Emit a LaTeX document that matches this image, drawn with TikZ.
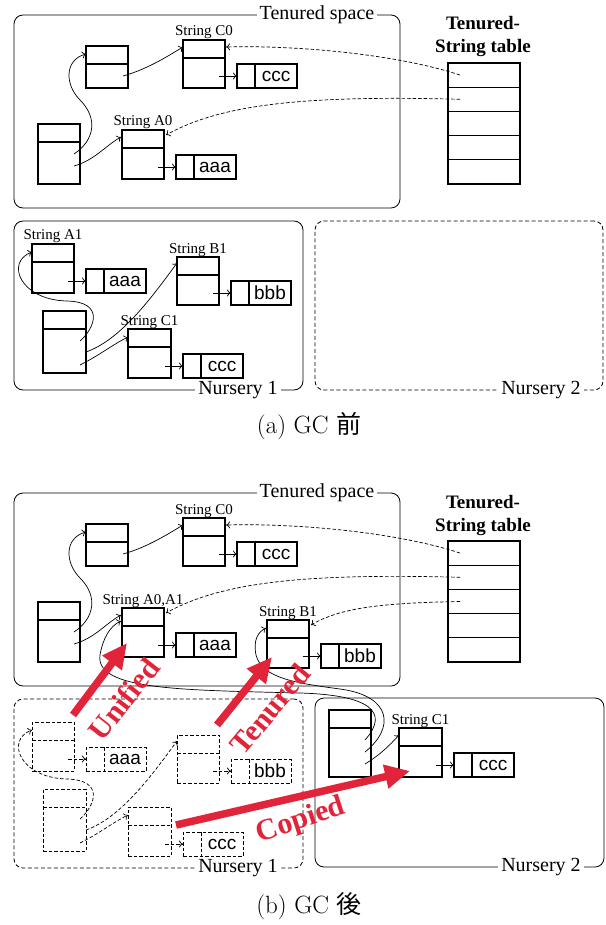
\documentclass[tikz,border=0pt]{standalone}
\usepackage{fontspec}
\newfontfamily\tms{Liberation Serif}
\newfontfamily\hlv{Liberation Sans}
\newfontfamily\cjk{Noto Sans CJK JP}
\usetikzlibrary{arrows.meta,calc}
\definecolor{gcred}{RGB}{226,36,58}
\tikzset{
  objbox/.style={draw, line width=1.2pt, inner sep=0pt, outer sep=0pt},
  payload/.style={draw, line width=1.2pt, minimum width=60pt, minimum height=24pt, inner sep=0pt, outer sep=0pt, anchor=south west},
  paytext/.style={font=\hlv\fontsize{19}{19}\selectfont, inner sep=0pt},
  ptr/.style={line width=0.7pt, -{To[length=4pt,width=7pt]}},
  ghost/.style={line width=0.75pt, dash pattern=on 3.5pt off 2pt},
  tblptr/.style={ptr, dash pattern=on 3.5pt off 2pt},
  lbl/.style={font=\tms\fontsize{15}{15}\selectfont, inner sep=0pt},
  region/.style={draw, line width=0.8pt, rounded corners=9pt, inner sep=0pt, outer sep=0pt},
  dregion/.style={region, dash pattern=on 4pt off 2.5pt},
  regionlabel/.style={font=\tms\fontsize{20}{20}\selectfont, fill=white, inner xsep=3pt, inner ysep=1pt},
  tbltitle/.style={font=\tms\bfseries\fontsize{19}{23}\selectfont, align=center, inner sep=0pt},
  gcarrow/.style={draw=gcred, line width=7.5pt, -{Triangle[length=25pt,width=23pt]}},
  gclabel/.style={text=gcred, font=\tms\bfseries\fontsize{30}{30}\selectfont, inner sep=0pt},
  caption/.style={font=\fontsize{25}{25}\selectfont, inner sep=0pt},
}
% string object: [style] name, x, y, width, height
\newcommand\sobj[6][]{%
  \node[objbox,#1,minimum width=#5,minimum height=#6,anchor=north west] (#2) at ({#3},{#4}) {};
  \draw[objbox,#1] ($(#2.north west)+(0,18)$) -- ($(#2.north east)+(0,18)$);}
% payload: [style] name, owner, text
\newcommand\pobj[4][]{%
  \node[payload,#1] (#2) at ($(#3.south east)+(12,0)$) {};
  \draw[objbox,#1] ($(#2.north west)+(18,0)$) -- ($(#2.south west)+(18,0)$);
  \node[paytext] (#2-t) at ($(#2.center)+(9,0)$) {#4};
  \draw[ptr,#1] ($(#3.east |- #2.west)+(-6,0)$) -- (#2.west);}
\newcommand\slabel[2]{\node[lbl,anchor=base] (#1-l) at ([yshift=4pt]#1.north) {#2};}
% tenured space panel
\newcommand\panelTop[2]{%
  \node[region, minimum width=386pt, minimum height=193pt, anchor=north west] (#1TS) at (14,15) {};
  \node[regionlabel] (#1TSl) at (317,15) {Tenured space};
  \sobj{#1P}{86}{46}{42pt}{42pt}
  \sobj{#1C}{183}{40}{42pt}{48pt}
  \pobj{#1Cp}{#1C}{ccc}
  \sobj{#1R}{38}{124}{42pt}{60pt}
  \sobj{#1A}{122}{130}{42pt}{49pt}
  \pobj{#1Ap}{#1A}{aaa}
  \slabel{#1C}{String C0}
  \slabel{#1A}{#2}
  \node[tbltitle] (#1TT) at (483,37) {Tenured-\\String table};
  \foreach \i in {1,...,5}
    \node[objbox,minimum width=72pt,minimum height=24.2pt,anchor=north west] (#1T\i) at (448,{63+24.2*(\i-1)}) {};
  \draw[ptr] ($(#1R.north east)+(-6,30)$) .. controls (95,140) and (98,118) .. (80,100)
             .. controls (65,85) and (64,60) .. ($(#1P.north west)+(0,8)$);
  \draw[ptr] ($(#1R.north east)+(-6,42)$) .. controls (95,160) and (105,146) .. ($(#1A.north west)+(-1,7)$);
  \draw[ptr] ($(#1P.north east)+(-5,30)$) .. controls (145,70) and (165,58) .. ($(#1C.north west)+(0,7)$);
  \draw[tblptr] ($(#1T1.west)+(12,0)$) .. controls (400,55) and (300,45) .. ($(#1C.north east)+(1,7)$);
  \draw[tblptr] ($(#1T2.west)+(12,0)$) .. controls (300,95) and (220,105) .. ($(#1A.north east)+(2,5)$);
}
% nursery 1 panel: [style] prefix region-style
\newcommand\nurseryOne[3][]{%
  \node[#3, minimum width=289pt, minimum height=169pt, anchor=north west] (#2N) at (14,221) {};
  \node[regionlabel] (#2Nl) at (238,390) {Nursery 1};
  \sobj[#1]{#2A}{32}{244}{42pt}{49pt}
  \pobj[#1]{#2Ap}{#2A}{aaa}
  \sobj[#1]{#2B}{177}{257}{42pt}{48pt}
  \pobj[#1]{#2Bp}{#2B}{bbb}
  \sobj[#1]{#2R}{43}{311}{43pt}{62pt}
  \sobj[#1]{#2C}{128}{329}{43pt}{49pt}
  \pobj[#1]{#2Cp}{#2C}{ccc}
  \draw[ptr,#1,line width=0.7pt] ($(#2R.north east)+(-6,30)$) .. controls (95,328) and (105,302) .. (67,301)
                .. controls (20,300) and (5,262) .. ($(#2A.north west)+(0,8)$);
  \draw[ptr,#1,line width=0.7pt] ($(#2R.north east)+(0,41)$) .. controls (120,340) and (150,300) .. ($(#2B.north west)+(0,6)$);
  \draw[ptr,#1,line width=0.7pt] ($(#2R.north east)+(-6,54)$) .. controls (100,355) and (112,345) .. ($(#2C.north west)+(0,8)$);
}
\begin{document}
\begin{tikzpicture}[x=1pt,y=-1pt]
\useasboundingbox (0,0) rectangle (605,925);
% ---------------- (a) ----------------
\panelTop{a}{String A0}
\nurseryOne{an}{region}
\slabel{anA}{String A1}
\slabel{anB}{String B1}
\slabel{anC}{String C1}
\node[dregion, minimum width=288pt, minimum height=169pt, anchor=north west] (aN2) at (315,221) {};
\node[regionlabel] (aN2l) at (541,390) {Nursery 2};
\node[caption] (capa) at (309,426) {(a) GC {\cjk 前}};
% ---------------- (b) ----------------
\begin{scope}[yshift=-478pt]
\panelTop{b}{String A0,A1}
\sobj{bB}{267}{142}{42pt}{48pt}
\pobj{bBp}{bB}{bbb}
\slabel{bB}{String B1}
\draw[tblptr] ($(bT3.west)+(12,0)$) .. controls (380,125) and (340,130) .. ($(bB.north east)+(2,5)$);
\nurseryOne[ghost]{bn}{dregion}
\node[region, minimum width=289pt, minimum height=169pt, anchor=north west] (bN2) at (315,220) {};
\node[regionlabel] (bN2l) at (541,389) {Nursery 2};
\sobj{bQ}{329}{232}{42pt}{67pt}
\sobj{bK}{399}{250}{43pt}{49pt}
\pobj{bKp}{bK}{ccc}
\slabel{bK}{String C1}
\draw[ptr] ($(bQ.north east)+(-6,30)$) .. controls (390,234) and (370,217) .. (300,215)
           .. controls (180,212) and (95,212) .. (100,177)
           .. controls (103,160) and (110,148) .. ($(bA.north west)+(-1,13)$);
\draw[ptr] ($(bQ.north east)+(-6,42)$) .. controls (395,250) and (392,218) .. (340,211)
           .. controls (295,205) and (262,200) .. (256,177)
           .. controls (253,162) and (258,154) .. ($(bB.north west)+(-1,8)$);
\draw[ptr] ($(bQ.north east)+(-6,54)$) .. controls (380,277) and (390,267) .. ($(bK.north west)+(0,7)$);
% red GC arrows
\coordinate (u1) at (73,237);  \coordinate (u2) at (127,165);
\coordinate (t1) at (217,247); \coordinate (t2) at (272,179);
\coordinate (c1) at (176,347); \coordinate (c2) at (410,293);
\draw[gcarrow] (u1) -- (u2);
\draw[gcarrow] (t1) -- (t2);
\draw[gcarrow] (c1) -- (c2);
\node[gclabel, rotate=52] (ulbl) at (124,221) {Unified};
\node[gclabel, rotate=50] (tlbl) at (270,231) {Tenured};
\node[gclabel, rotate=18] (clbl) at (301,343) {Copied};
\end{scope}
\node[caption] (capb) at (309,906) {(b) GC {\cjk 後}};
\end{tikzpicture}
\end{document}
